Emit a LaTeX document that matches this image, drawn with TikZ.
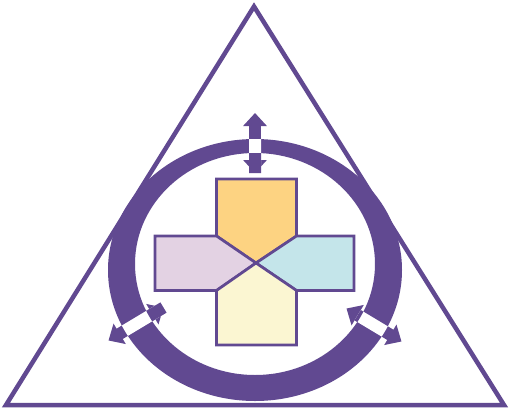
\documentclass[tikz,border=0pt]{standalone}
\usepackage{tikz}
\usetikzlibrary{arrows.meta}

\definecolor{ringpurple}{RGB}{97,73,145}
\definecolor{topfill}{RGB}{253,211,130}
\definecolor{leftfill}{RGB}{227,210,227}
\definecolor{rightfill}{RGB}{196,229,234}
\definecolor{bottomfill}{RGB}{251,246,210}

\begin{document}
\begin{tikzpicture}[x=1pt,y=-1pt,
	piece/.style={draw=ringpurple,line width=2.7pt,miter limit=10},
	ringarrow/.style={ringpurple,line width=12pt,
		{Triangle[width=23pt,length=13pt]}-{Triangle[width=23pt,length=13pt]}},
	shaft/.style={line width=12pt,shorten <=13pt,shorten >=13pt}]
	
	\useasboundingbox (0,0) rectangle (509,410);
	
	% triangle
	\coordinate (apex) at (254,6.5);
	\coordinate (baseL) at (6,405);
	\coordinate (baseR) at (504,405);
	\draw[ringpurple,line width=4.5pt] (apex) -- (baseL) -- (baseR) -- cycle;
	
	% ring
	\fill[ringpurple,even odd rule] (255,270) ellipse [x radius=147,y radius=131]
	(255,264) ellipse [x radius=120,y radius=111];
	
	% arrows through the ring
	\coordinate (topOut) at (255,113);
	\coordinate (topIn) at (255,173);
	\coordinate (leftOut) at (108.5,340.5);
	\coordinate (leftIn) at (163.5,307.5);
	\coordinate (rightOut) at (401.5,341.5);
	\coordinate (rightIn) at (346.5,308.5);
	
	\draw[ringarrow] (topOut) -- (topIn);
	\draw[ringarrow] (leftOut) -- (leftIn);
	\draw[ringarrow] (rightOut) -- (rightIn);
	
	\begin{scope}
		\clip (255,270) ellipse [x radius=147,y radius=131];
		\draw[shaft,white] (topOut) -- (topIn) (leftOut) -- (leftIn) (rightOut) -- (rightIn);
	\end{scope}
	\begin{scope}
		\clip (255,264) ellipse [x radius=120,y radius=111];
		\draw[shaft,ringpurple] (topOut) -- (topIn) (leftOut) -- (leftIn) (rightOut) -- (rightIn);
	\end{scope}
	
	% cross
	\coordinate (mid) at (256,263);
	\filldraw[piece,fill=topfill] (216.5,179) -- (296.5,179) -- (296.5,236) -- (mid) -- (216.5,236) -- cycle;
	\filldraw[piece,fill=leftfill] (155,236) -- (216.5,236) -- (mid) -- (216.5,290.5) -- (155,290.5) -- cycle;
	\filldraw[piece,fill=rightfill] (296.5,236) -- (354,236) -- (354,290.5) -- (296.5,290.5) -- (mid) -- cycle;
	\filldraw[piece,fill=bottomfill] (216.5,290.5) -- (mid) -- (296.5,290.5) -- (296.5,345) -- (216.5,345) -- cycle;
\end{tikzpicture}
\end{document}
